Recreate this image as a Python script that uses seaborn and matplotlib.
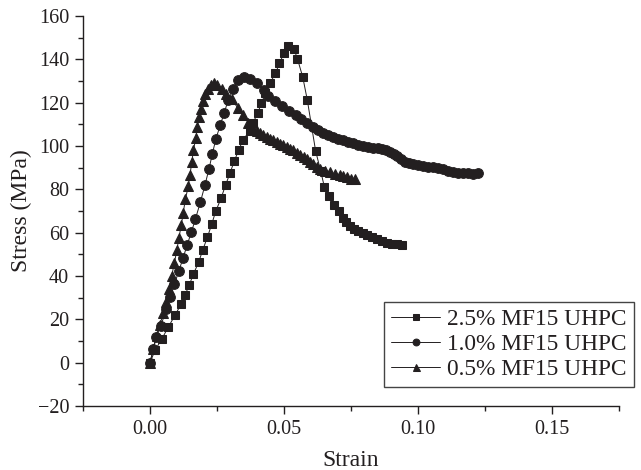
import matplotlib
matplotlib.use("Agg")
import matplotlib.pyplot as plt
import seaborn as sns
import pandas as pd
from matplotlib.ticker import MultipleLocator

# ---- data ----
strain_25 = [0.0, 0.0019, 0.0045, 0.0068, 0.0093, 0.0116, 0.0131, 0.0146, 0.0162, 0.0182,
             0.0197, 0.0214, 0.0230, 0.0245, 0.0265, 0.0282, 0.0299, 0.0315, 0.0332, 0.0347,
             0.0373, 0.0385, 0.0402, 0.0416, 0.0430, 0.0448, 0.0468, 0.0483, 0.0499, 0.0516,
             0.0537, 0.0550, 0.0570, 0.0587, 0.0618, 0.0637, 0.0651, 0.0668, 0.0685, 0.0705,
             0.0721, 0.0733, 0.0746, 0.0761, 0.0777, 0.0793, 0.0809, 0.0827, 0.0846, 0.0864,
             0.0883, 0.0902, 0.0920, 0.0939]
stress_25 = [0.0, 5.8, 11.1, 16.4, 21.8, 27.0, 31.3, 35.7, 40.9, 46.5,
             52.1, 57.8, 63.8, 69.8, 75.8, 82.0, 87.6, 93.3, 98.3, 103.0,
             106.9, 110.8, 115.3, 119.7, 124.3, 129.1, 133.5, 138.1, 142.7, 146.0,
             144.8, 140.3, 131.8, 121.2, 97.7, 88.4, 80.9, 76.9, 72.9, 70.0,
             66.7, 64.8, 63.0, 61.8, 60.7, 59.7, 58.7, 57.8, 56.9, 56.1,
             55.4, 55.0, 54.6, 54.3]

strain_10 = [0.0, 0.0012, 0.0022, 0.0040, 0.0061, 0.0076, 0.0091, 0.0107, 0.0123, 0.0138,
             0.0154, 0.0169, 0.0188, 0.0205, 0.0220, 0.0233, 0.0246, 0.0262, 0.0277, 0.0292,
             0.0311, 0.0329, 0.0349, 0.0374, 0.0401, 0.0424, 0.0442, 0.0466, 0.0491, 0.0519,
             0.0543, 0.0565, 0.0586, 0.0609, 0.0628, 0.0647, 0.0665, 0.0684, 0.0702, 0.0721,
             0.0740, 0.0759, 0.0777, 0.0796, 0.0815, 0.0833, 0.0849, 0.0865, 0.0880, 0.0896,
             0.0909, 0.0922, 0.0936, 0.0951, 0.0966, 0.0982, 0.1001, 0.1020, 0.1038, 0.1057,
             0.1076, 0.1094, 0.1113, 0.1132, 0.1150, 0.1169, 0.1188, 0.1206, 0.1224]
stress_10 = [0.0, 6.1, 12.0, 16.9, 24.6, 30.3, 36.1, 42.1, 48.1, 54.1,
             60.1, 66.1, 74.1, 81.9, 89.4, 96.5, 103.4, 109.5, 115.4, 121.2,
             126.4, 130.4, 131.8, 131.0, 129.1, 125.9, 123.0, 121.0, 118.5, 116.2,
             114.1, 112.3, 110.4, 109.0, 107.5, 106.1, 105.2, 104.3, 103.4, 102.6,
             101.9, 101.2, 100.6, 100.0, 99.6, 99.2, 99.0, 98.8, 98.1, 97.3,
             96.2, 95.2, 93.9, 92.6, 92.0, 91.5, 91.1, 90.7, 90.4, 90.1,
             89.7, 89.2, 88.6, 88.0, 87.7, 87.4, 87.4, 87.3, 87.4]

strain_05 = [0.0, 0.0012, 0.0025, 0.0037, 0.0050, 0.0060, 0.0071, 0.0081, 0.0091, 0.0100,
             0.0108, 0.0117, 0.0124, 0.0132, 0.0143, 0.0149, 0.0156, 0.0162, 0.0171, 0.0176,
             0.0184, 0.0190, 0.0199, 0.0206, 0.0215, 0.0226, 0.0239, 0.0251, 0.0268, 0.0285,
             0.0305, 0.0327, 0.0348, 0.0367, 0.0385, 0.0398, 0.0410, 0.0423, 0.0435, 0.0448,
             0.0460, 0.0473, 0.0485, 0.0498, 0.0510, 0.0523, 0.0535, 0.0548, 0.0560, 0.0573,
             0.0585, 0.0597, 0.0609, 0.0622, 0.0634, 0.0653, 0.0672, 0.0690, 0.0709, 0.0722,
             0.0735, 0.0750, 0.0765]
stress_05 = [0.0, 6.1, 12.3, 17.5, 23.1, 28.1, 33.8, 40.0, 46.1, 51.8,
             57.7, 63.7, 69.2, 75.4, 81.5, 86.6, 92.6, 98.1, 103.6, 108.9,
             113.2, 117.2, 120.7, 123.8, 126.1, 128.0, 128.9, 128.0, 126.4, 124.0,
             121.5, 117.7, 114.1, 110.8, 108.0, 107.0, 106.1, 105.2, 104.3, 103.4,
             102.6, 101.8, 101.1, 100.3, 99.5, 98.8, 98.0, 97.0, 95.9, 94.9,
             93.8, 92.6, 91.5, 90.4, 89.4, 88.6, 87.8, 87.1, 86.4, 86.0,
             85.5, 85.0, 84.6]

labels = ["2.5% MF15 UHPC", "1.0% MF15 UHPC", "0.5% MF15 UHPC"]

sns.set_theme(style="ticks")
plt.rcParams["font.family"] = ["Liberation Serif", "DejaVu Serif"]

fig = plt.figure(figsize=(6.41, 4.70), dpi=100)
ax = fig.add_axes([83 / 641, 1 - 406 / 470, (619 - 83) / 641, (406 - 16) / 470])

ink = "#231f20"
series = [
    (strain_25, stress_25, "s", 6.3, labels[0]),
    (strain_10, stress_10, "o", 7.0, labels[1]),
    (strain_05, stress_05, "^", 7.2, labels[2]),
]
for xs, ys, mk, ms, lab in series:
    df = pd.DataFrame({"Strain": xs, "Stress": ys})
    sns.lineplot(data=df, x="Strain", y="Stress", ax=ax, color=ink, marker=mk,
                 markersize=ms, markeredgecolor=ink, markerfacecolor=ink,
                 linewidth=0.7, estimator=None, sort=False, label=lab)

ax.set_xlim(-0.025, 0.175)
ax.set_ylim(-20, 160)
ax.xaxis.set_major_locator(MultipleLocator(0.05))
ax.xaxis.set_minor_locator(MultipleLocator(0.025))
ax.yaxis.set_major_locator(MultipleLocator(20))
ax.yaxis.set_minor_locator(MultipleLocator(10))
ax.xaxis.set_major_formatter(matplotlib.ticker.FormatStrFormatter("%.2f"))
ax.tick_params(which="major", direction="out", length=6, width=1, color=ink,
               labelsize=14.5, labelcolor=ink, pad=4)
ax.tick_params(which="minor", direction="out", length=3.5, width=1, color=ink)
for s in ["top", "right"]:
    ax.spines[s].set_visible(False)
for s in ["left", "bottom"]:
    ax.spines[s].set_color(ink)
    ax.spines[s].set_linewidth(1.0)

ax.set_xlabel("Strain", fontsize=17, color=ink, labelpad=8)
ax.set_ylabel("Stress (MPa)", fontsize=17, color=ink, labelpad=4)

leg = ax.legend(loc="lower left", bbox_to_anchor=(0.5616, 0.049), fontsize=16.8,
                frameon=True, fancybox=False, edgecolor="#444444", framealpha=1,
                handlelength=2.1, handletextpad=0.3, borderpad=0.3,
                labelspacing=0.15, borderaxespad=0, markerscale=0.7)
leg.get_frame().set_linewidth(1.0)
for t in leg.get_texts():
    t.set_color(ink)

fig.savefig("out.png", dpi=100)
